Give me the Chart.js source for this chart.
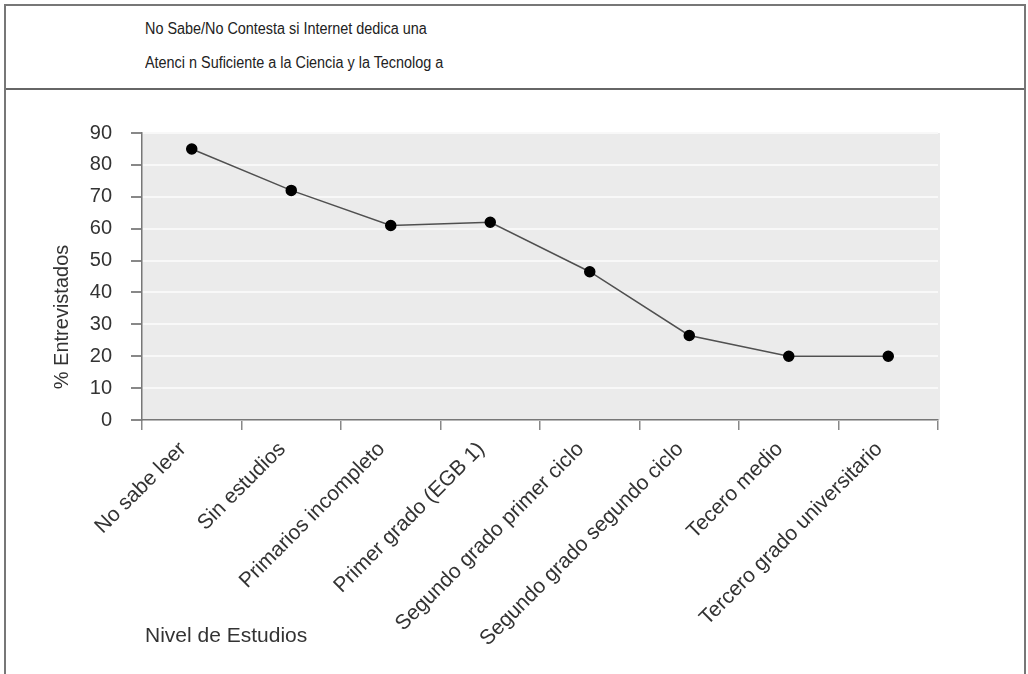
<!DOCTYPE html>
<html>
<head>
<meta charset="utf-8">
<script src="https://cdn.jsdelivr.net/npm/chart.js@4.4.0/dist/chart.umd.min.js"></script>
<style>
    body { margin: 0; background: #fff; font-family: "Liberation Sans", Arial, sans-serif; }
    #frame { position: absolute; left: 4px; top: 4px; width: 1018px; height: 690px; border: 2px solid #777; }
    #head { height: 82px; border-bottom: 2px solid #666; position: relative; }
    #head div { position: absolute; left: 139px; font-size: 16px; color: #222; transform: scaleX(0.9); transform-origin: left center; white-space: nowrap; }
    #wrap { position: absolute; left: 0; top: 84px; width: 1018px; height: 584px; }
</style>
</head>
<body>
<div id="frame">
    <div id="head">
        <div style="top: 14px;">No Sabe/No Contesta si Internet dedica una</div>
        <div style="top: 48px;">Atenci n Suficiente a la Ciencia y la Tecnolog a</div>
    </div>
    <div id="wrap"><canvas id="lineChart"></canvas></div>
</div>
<script>
// Data
const niveles = ['No sabe leer', 'Sin estudios', 'Primarios incompleto', 'Primer grado (EGB 1)',
    'Segundo grado primer ciclo', 'Segundo grado segundo ciclo', 'Tecero medio', 'Tercero grado universitario'];
const porcentajes = [85, 72, 61, 62, 46.5, 26.5, 20, 20];
const yTicks = [0, 10, 20, 30, 40, 50, 60, 70, 80, 90];

const FONT = '"Liberation Sans", Arial, sans-serif';

// grey plot background
const plotBackground = {
    id: 'plotBackground',
    beforeDraw(chart) {
        const { ctx, chartArea } = chart;
        ctx.save();
        ctx.fillStyle = '#ebebeb';
        ctx.fillRect(chartArea.left, chartArea.top, chartArea.right - chartArea.left + 2, chartArea.bottom - chartArea.top);
        ctx.restore();
    }
};

// axis captions: y one sits a bit low, x one sits low on the left
const axisCaptions = {
    id: 'axisCaptions',
    afterDraw(chart) {
        const { ctx, chartArea } = chart;
        ctx.save();
        ctx.fillStyle = '#333';
        ctx.textBaseline = 'middle';
        ctx.font = '21px ' + FONT;
        ctx.fillText('Nivel de Estudios', chartArea.left + 3, 546);

        ctx.font = '20px ' + FONT;
        ctx.translate(56, 227);
        ctx.rotate(-Math.PI / 2);
        ctx.textAlign = 'center';
        ctx.fillText('% Entrevistados', 0, 0);
        ctx.restore();
    }
};

function initChart() {
    const ctx = document.getElementById('lineChart').getContext('2d');
    new Chart(ctx, {
        type: 'line',
        data: {
            labels: niveles,
            datasets: [{
                data: porcentajes,
                borderColor: '#505050',
                borderWidth: 1.5,
                tension: 0,
                pointRadius: 5,
                pointBackgroundColor: '#000',
                pointBorderColor: '#000'
            }]
        },
        plugins: [plotBackground, axisCaptions],
        options: {
            responsive: true,
            maintainAspectRatio: false,
            animation: false,
            layout: { padding: { left: 0, right: 86, top: 43, bottom: 0 } },
            plugins: {
                legend: { display: false },
                tooltip: { enabled: false }
            },
            scales: {
                x: {
                    offset: true,
                    grid: { offset: true, drawOnChartArea: false, tickLength: 10, tickColor: '#888', lineWidth: 1.5 },
                    border: { color: '#777', width: 1.5 },
                    ticks: {
                        color: '#333',
                        font: { family: FONT, size: 21 },
                        minRotation: 45,
                        maxRotation: 45,
                        autoSkip: false,
                        labelOffset: -9,
                        padding: 7
                    },
                    afterFit(scale) { scale.height = 254; }
                },
                y: {
                    min: 0,
                    max: 90,
                    afterBuildTicks(scale) { scale.ticks = yTicks.map(v => ({ value: v })); },
                    grid: { color: '#f8f8f8', lineWidth: 2, tickLength: 11, tickColor: '#888' },
                    border: { color: '#777', width: 1.5 },
                    ticks: {
                        color: '#333',
                        font: { family: FONT, size: 20 },
                        padding: 19
                    },
                    afterFit(scale) { scale.width = 136; }
                }
            }
        }
    });
}

document.addEventListener('DOMContentLoaded', function () {
    initChart();
});
</script>
</body>
</html>
